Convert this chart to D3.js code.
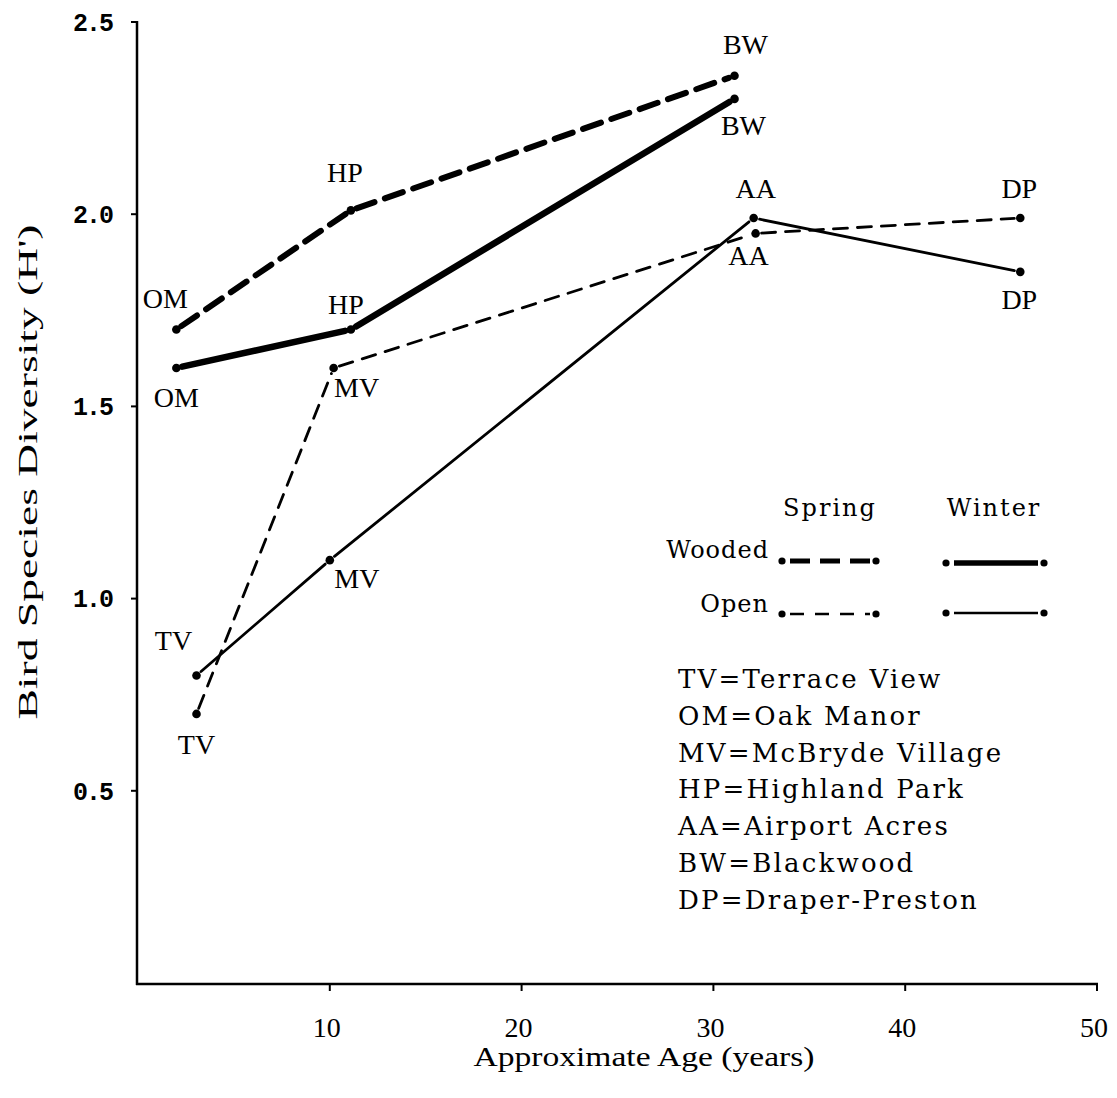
<!DOCTYPE html>
<html>
<head>
<meta charset="utf-8">
<script src="https://cdn.jsdelivr.net/npm/d3@7"></script>
<style>
  html, body { margin: 0; padding: 0; background: #fff; }
  svg { display: block; }
</style>
</head>
<body>
<svg id="chart" width="1117" height="1098"></svg>
<script>
// ---------- DATA ----------
const sites = ["TV", "OM", "MV", "HP", "AA", "BW", "DP"];
const siteNames = ["Terrace View", "Oak Manor", "McBryde Village", "Highland Park", "Airport Acres", "Blackwood", "Draper-Preston"];

const woodedSites = ["OM", "HP", "BW"];
const woodedAge = [2, 11.1, 31.1];
const woodedSpring = [1.70, 2.01, 2.36];
const woodedWinter = [1.60, 1.70, 2.30];

const openSites = ["TV", "MV", "AA", "DP"];
const openAgeSpring = [3.05, 10.2, 32.2, 46];
const openAgeWinter = [3.05, 10.0, 32.1, 46];
const openSpring = [0.70, 1.60, 1.95, 1.99];
const openWinter = [0.80, 1.10, 1.99, 1.85];

const xTicks = [10, 20, 30, 40, 50];
const yTicks = [0.5, 1.0, 1.5, 2.0, 2.5];

// ---------- LAYOUT / STYLE ----------
const svg = d3.select("#chart");
const x = d3.scaleLinear().domain([0, 50]).range([138, 1097]);
const y = d3.scaleLinear().domain([0, 2.5]).range([983, 22]);

const styles = {
  woodedSpring: { w: 6, dash: "19,11" },
  woodedWinter: { w: 6.5, dash: null },
  openSpring: { w: 2.8, dash: "14,10" },
  openWinter: { w: 2.8, dash: null }
};

// label offsets (dx, dy) per series point
const labelOff = {
  woodedSpring: [[-11, -31], [-6, -38], [11, -32]],
  woodedWinter: [[0, 29], [-5, -25], [9, 26]],
  openSpring: [[0, 30], [23, 19], [-7, 22], [-1, -30]],
  openWinter: [[-23, -35], [27, 18], [2, -30], [-1, 27]]
};

const series = [
  { key: "woodedSpring", ages: woodedAge, vals: woodedSpring, labels: woodedSites },
  { key: "woodedWinter", ages: woodedAge, vals: woodedWinter, labels: woodedSites },
  { key: "openSpring", ages: openAgeSpring, vals: openSpring, labels: openSites },
  { key: "openWinter", ages: openAgeWinter, vals: openWinter, labels: openSites }
];

// ---------- AXES ----------
const axisG = svg.append("g");
axisG.append("line")
  .attr("x1", x(0) - 1).attr("x2", x(0) - 1)
  .attr("y1", y(2.5) - 1).attr("y2", y(0) + 2)
  .attr("stroke", "#000").attr("stroke-width", 2.5);
axisG.append("line")
  .attr("x1", x(0) - 2).attr("x2", x(50) + 1)
  .attr("y1", y(0) + 1).attr("y2", y(0) + 1)
  .attr("stroke", "#000").attr("stroke-width", 2.5);

axisG.selectAll(".yt").data(yTicks).enter().append("line")
  .attr("x1", x(0) - 7).attr("x2", x(0) - 1)
  .attr("y1", d => y(d)).attr("y2", d => y(d))
  .attr("stroke", "#000").attr("stroke-width", 2);
axisG.selectAll(".ytl").data(yTicks).enter().append("text")
  .attr("x", 112).attr("y", d => y(d))
  .attr("dy", "0.35em")
  .attr("text-anchor", "end")
  .attr("font-family", "Liberation Mono, DejaVu Sans Mono, monospace")
  .attr("font-size", 25)
  .attr("font-weight", "bold")
  .attr("letter-spacing", "-2")
  .text(d => d.toFixed(1));

axisG.selectAll(".xt").data(xTicks).enter().append("line")
  .attr("x1", d => x(d)).attr("x2", d => x(d))
  .attr("y1", y(0) + 1).attr("y2", y(0) + 8)
  .attr("stroke", "#000").attr("stroke-width", 2);
axisG.selectAll(".xtl").data(xTicks).enter().append("text")
  .attr("x", d => x(d) - 3).attr("y", 1037)
  .attr("text-anchor", "middle")
  .attr("font-family", "Liberation Serif, serif")
  .attr("font-size", 27)
  .attr("textLength", 28).attr("lengthAdjust", "spacingAndGlyphs")
  .text(d => d);

svg.append("text")
  .attr("x", 644).attr("y", 1066)
  .attr("text-anchor", "middle")
  .attr("font-family", "Liberation Serif, serif")
  .attr("font-size", 27)
  .attr("textLength", 341).attr("lengthAdjust", "spacingAndGlyphs")
  .text("Approximate Age (years)");

svg.append("text")
  .attr("transform", "translate(37,472) rotate(-90)")
  .attr("text-anchor", "middle")
  .attr("font-family", "Liberation Serif, serif")
  .attr("font-size", 28)
  .attr("textLength", 495).attr("lengthAdjust", "spacingAndGlyphs")
  .text("Bird Species Diversity (H')");

// ---------- SERIES ----------
const gap = 6;
function segs(pts) {
  const out = [];
  for (let i = 0; i < pts.length - 1; i++) {
    const [x1, y1] = pts[i], [x2, y2] = pts[i + 1];
    const L = Math.hypot(x2 - x1, y2 - y1);
    const ux = (x2 - x1) / L, uy = (y2 - y1) / L;
    out.push([[x1 + ux * gap, y1 + uy * gap], [x2 - ux * gap, y2 - uy * gap]]);
  }
  return out;
}
const line = d3.line();

series.forEach(s => {
  const st = styles[s.key];
  const pts = s.ages.map((a, i) => [x(a), y(s.vals[i])]);
  const g = svg.append("g");
  g.selectAll("path").data(segs(pts)).enter().append("path")
    .attr("d", d => line(d))
    .attr("fill", "none")
    .attr("stroke", "#000")
    .attr("stroke-width", st.w)
    .attr("stroke-linecap", "round")
    .attr("stroke-dasharray", st.dash);
  g.selectAll("circle").data(pts).enter().append("circle")
    .attr("cx", d => d[0]).attr("cy", d => d[1]).attr("r", 4.3)
    .attr("fill", "#000");
  g.selectAll("text").data(pts).enter().append("text")
    .attr("x", (d, i) => d[0] + labelOff[s.key][i][0])
    .attr("y", (d, i) => d[1] + labelOff[s.key][i][1])
    .attr("dy", "0.35em")
    .attr("text-anchor", "middle")
    .attr("font-family", "Liberation Serif, serif")
    .attr("font-size", 28)
    .text((d, i) => s.labels[i]);
});

// ---------- LEGEND ----------
const lg = svg.append("g")
  .attr("font-family", "DejaVu Serif, serif")
  .attr("font-size", 24);
lg.append("text").attr("x", 830).attr("y", 516).attr("text-anchor", "middle").attr("letter-spacing", 2).text("Spring");
lg.append("text").attr("x", 994).attr("y", 516).attr("text-anchor", "middle").attr("letter-spacing", 2).text("Winter");
lg.append("text").attr("x", 769).attr("y", 558).attr("text-anchor", "end").attr("letter-spacing", 1).text("Wooded");
lg.append("text").attr("x", 769).attr("y", 612).attr("text-anchor", "end").attr("letter-spacing", 1).text("Open");

const legendRows = [
  { key: "woodedSpring", x1: 782, x2: 876, y: 561, dash: "20,10" },
  { key: "woodedWinter", x1: 946, x2: 1044, y: 563, dash: null },
  { key: "openSpring", x1: 782, x2: 876, y: 614, dash: "14,11" },
  { key: "openWinter", x1: 946, x2: 1044, y: 613, dash: null }
];
legendRows.forEach(r => {
  const st = styles[r.key];
  lg.append("line")
    .attr("x1", r.x1 + 8).attr("x2", r.x2 - 6)
    .attr("y1", r.y).attr("y2", r.y)
    .attr("stroke", "#000")
    .attr("stroke-width", st.w * 0.85)
    .attr("stroke-dasharray", r.dash);
  lg.append("circle").attr("cx", r.x1).attr("cy", r.y).attr("r", 3.6).attr("fill", "#000");
  lg.append("circle").attr("cx", r.x2).attr("cy", r.y).attr("r", 3.6).attr("fill", "#000");
});

// ---------- KEY ----------
const kg = svg.append("g")
  .attr("font-family", "DejaVu Serif, serif")
  .attr("font-size", 26)
  .attr("letter-spacing", 2.2);
kg.selectAll("text").data(sites).enter().append("text")
  .attr("x", 678)
  .attr("y", (d, i) => 688 + i * 36.8)
  .text((d, i) => d + "=" + siteNames[i]);
</script>
</body>
</html>
